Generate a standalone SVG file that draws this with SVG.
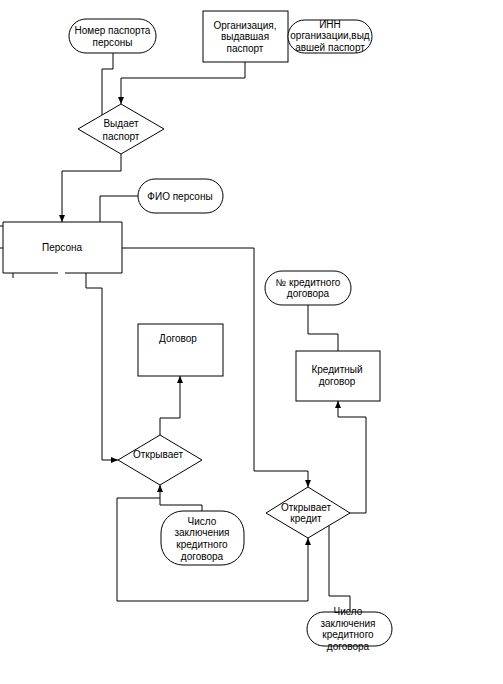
<svg xmlns="http://www.w3.org/2000/svg" width="503" height="684" viewBox="0 0 503 684">
<style>
.box{fill:#fff;stroke:#000;stroke-width:1}
.c{fill:none;stroke:#000;stroke-width:1}
.t{font-family:"Liberation Sans",Arial,sans-serif;font-size:10px;fill:#000;text-anchor:middle}
</style>
<defs>
<marker id="ar" markerWidth="8" markerHeight="8" refX="7" refY="4" orient="auto" markerUnits="userSpaceOnUse">
<path d="M0,1 L7,4 L0,7 Z" fill="#000"/>
</marker>
</defs>
<rect width="503" height="684" fill="#fff"/>
<g id="connectors">
<path class="c" d="M113,53 V69 H102 V115"/>
<path class="c" d="M245,62 V78 H121 V104" marker-end="url(#ar)"/>
<path class="c" d="M121,154 V171 H62 V222" marker-end="url(#ar)"/>
<path class="c" d="M138,196 H100 V222"/>
<path class="c" d="M122,248 H254 V471 H308 V487" marker-end="url(#ar)"/>
<path class="c" d="M86,273 V288 H102 V460 H118" marker-end="url(#ar)"/>
<path class="c" d="M160,435 V418 H180 V376" marker-end="url(#ar)"/>
<path class="c" d="M202,511 V505 H160 V485" marker-end="url(#ar)"/>
<path class="c" d="M160,498 H117 V601 H308 V538" marker-end="url(#ar)"/>
<path class="c" d="M349,513 H366 V417 H338 V401" marker-end="url(#ar)"/>
<path class="c" d="M308,305 V334 H338 V351"/>
<path class="c" d="M329,526 V596 H350 V612"/>
<path class="c" d="M0,226 H3 M0,248 H3 M13,273 V278"/>
</g>
<g id="n-nomer">
<rect class="box" x="69" y="19" width="87" height="34" rx="17"/>
<text class="t" x="112.5" y="34">Номер паспорта</text>
<text class="t" x="112.5" y="46">персоны</text>
</g>
<g id="n-org">
<rect class="box" x="203" y="11" width="85" height="51"/>
<text class="t" x="245" y="29">Организация,</text>
<text class="t" x="245" y="40">выдавшая</text>
<text class="t" x="245" y="52">паспорт</text>
</g>
<g id="n-inn">
<rect class="box" x="288" y="20" width="84" height="33" rx="16.5"/>
<text class="t" x="330" y="28">ИНН</text>
<text class="t" x="330" y="39">организации,выд</text>
<text class="t" x="330" y="51">авшей паспорт</text>
</g>
<g id="n-vydaet">
<polygon class="box" points="121,104 164,129 121,154 78,129"/>
<text class="t" x="121" y="127">Выдает</text>
<text class="t" x="121" y="140">паспорт</text>
</g>
<g id="n-fio">
<rect class="box" x="138" y="179" width="85" height="34" rx="17"/>
<text class="t" x="180" y="200">ФИО персоны</text>
</g>
<g id="n-persona">
<path class="c" d="M58,273 H3 V222 H122 V273 H65"/>
<text class="t" x="62" y="251">Персона</text>
</g>
<g id="n-nkd">
<rect class="box" x="265" y="271" width="86" height="34" rx="17"/>
<text class="t" x="308" y="286">№ кредитного</text>
<text class="t" x="308" y="297">договора</text>
</g>
<g id="n-dogovor">
<rect class="box" x="138" y="324" width="85" height="52"/>
<text class="t" x="178" y="342">Договор</text>
</g>
<g id="n-kreddog">
<rect class="box" x="296" y="351" width="84" height="50"/>
<text class="t" x="337" y="373">Кредитный</text>
<text class="t" x="337" y="385">договор</text>
</g>
<g id="n-otkr">
<polygon class="box" points="160,435 202,460 160,485 118,460"/>
<text class="t" x="158" y="458">Открывает</text>
</g>
<g id="n-otkrkred">
<polygon class="box" points="308,487 350,513 308,538 266,513"/>
<text class="t" x="306" y="511">Открывает</text>
<text class="t" x="306" y="522">кредит</text>
</g>
<g id="n-chislo1">
<rect class="box" x="161" y="511" width="83" height="54" rx="22"/>
<text class="t" x="202" y="525">Число</text>
<text class="t" x="202" y="536">заключения</text>
<text class="t" x="202" y="548">кредитного</text>
<text class="t" x="202" y="560">договора</text>
</g>
<g id="n-chislo2">
<rect class="box" x="307" y="612" width="85" height="34" rx="17"/>
<text class="t" x="348" y="615">Число</text>
<text class="t" x="348" y="627">заключения</text>
<text class="t" x="348" y="638">кредитного</text>
<text class="t" x="348" y="650">договора</text>
</g>
</svg>
